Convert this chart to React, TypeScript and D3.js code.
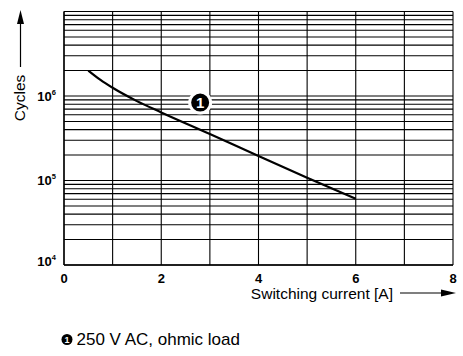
import React from "react";
import * as d3 from "d3";

const currentA = [0.5, 0.75, 1, 1.5, 2, 3, 4, 5, 6];
const cycles = [2.0e6, 1.55e6, 1.25e6, 8.7e5, 6.4e5, 3.55e5, 1.95e5, 1.08e5, 6.1e4];
const xTicks = [0, 2, 4, 6, 8];
const yDecades = [4, 5, 6];
const xTitle = "Switching current [A]";
const yTitle = "Cycles";
const legendText = "250 V AC, ohmic load";
const markerLabel = "1";

export default function App() {
  const W = 463, H = 356;
  const left = 64, right = 453, top = 11.5, bottom = 265;
  const x = d3.scaleLinear().domain([0, 8]).range([left, right]);
  const y = d3.scaleLog().domain([1e4, 1e7]).range([bottom, top]);

  const hLines: number[] = [];
  for (let d = 4; d < 7; d++) {
    for (let m = 1; m < 10; m++) hLines.push(m * Math.pow(10, d));
  }
  hLines.push(1e7);
  const vLines = d3.range(0, 9);

  const line = d3
    .line<number>()
    .x((_, i) => x(currentA[i]))
    .y((d) => y(d))
    .curve(d3.curveMonotoneX);

  const font = "Liberation Sans, Arial, Helvetica, sans-serif";
  const mx = x(2.8), my = y(8.35e5);

  return (
    <svg width={W} height={H} style={{ position: "absolute", left: 0, top: 0 }} fontFamily={font}>
      <rect width={W} height={H} fill="#fff" />
      <g>
        {hLines.map((v, i) => (
          <line key={"h" + i} x1={left} x2={right} y1={y(v)} y2={y(v)} stroke="#000" strokeWidth={1.1} />
        ))}
        {vLines.map((v) => (
          <line key={"v" + v} x1={x(v)} x2={x(v)} y1={top} y2={bottom} stroke="#000" strokeWidth={1.1} />
        ))}
        <line x1={left} x2={left} y1={top} y2={bottom} stroke="#000" strokeWidth={1.3} />
        <line x1={left} x2={right} y1={bottom} y2={bottom} stroke="#000" strokeWidth={1.3} />
      </g>
      <path d={line(cycles) || ""} fill="none" stroke="#000" strokeWidth={2.2} />
      <g>
        <circle cx={mx} cy={my} r={10.5} fill="#000" stroke="#fff" strokeWidth={3} />
        <text x={mx} y={my + 5.5} textAnchor="middle" fontSize={15} fontWeight="bold" fill="#fff">{markerLabel}</text>
      </g>
      {xTicks.map((t) => (
        <text key={"xt" + t} x={x(t)} y={283} textAnchor="middle" fontSize={13} fontWeight="bold">{t}</text>
      ))}
      {yDecades.map((e) => (
        <text key={"yt" + e} x={56} y={y(Math.pow(10, e)) + (e === 4 ? 1 : 4.5)} textAnchor="end" fontSize={13} fontWeight="bold">
          10
          <tspan fontSize={7.5} dy={-6}>{e}</tspan>
        </text>
      ))}
      <text transform="translate(25,98) rotate(-90)" textAnchor="middle" fontSize={15.5}>{yTitle}</text>
      <line x1={20.5} x2={20.5} y1={67} y2={22} stroke="#000" strokeWidth={1.2} />
      <path d="M20.5,10 L17,24 L24,24 Z" fill="#000" />
      <text x={393} y={299} textAnchor="end" fontSize={15.5}>{xTitle}</text>
      <line x1={400} x2={444} y1={293} y2={293} stroke="#000" strokeWidth={1.2} />
      <path d="M456,293 L441,289.5 L441,296.5 Z" fill="#000" />
      <g>
        <circle cx={67} cy={339.5} r={5.5} fill="#000" />
        <text x={67} y={342.7} textAnchor="middle" fontSize={9} fontWeight="bold" fill="#fff">{markerLabel}</text>
        <text x={76.5} y={345} fontSize={17}>{legendText}</text>
      </g>
    </svg>
  );
}
